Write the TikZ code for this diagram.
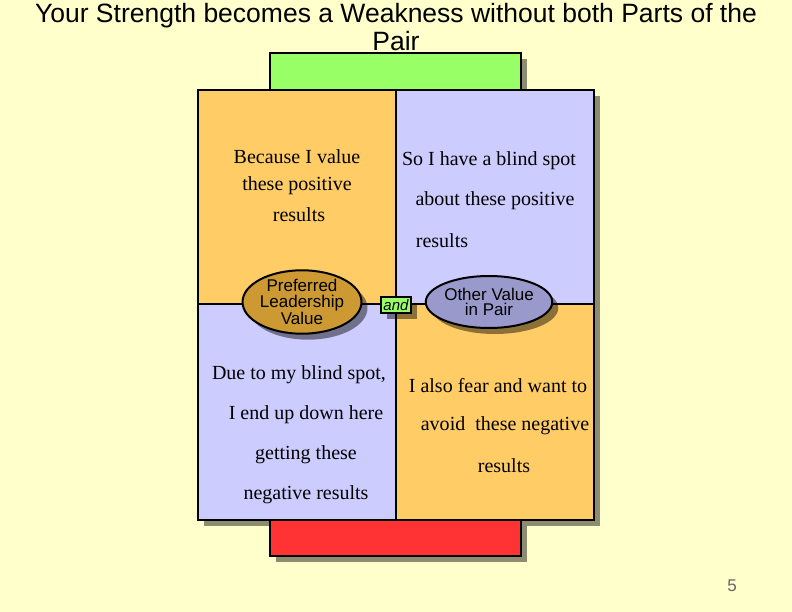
\documentclass[tikz,border=0pt]{standalone}
\usepackage{fontspec}
\setmainfont{Liberation Serif}
\newfontfamily\arialfont{Liberation Sans}
\usetikzlibrary{shapes.geometric,shadows}
\definecolor{pagebg}{HTML}{FFFFCC}
\definecolor{leafgreen}{HTML}{99FF66}
\definecolor{alarmred}{HTML}{FF3333}
\definecolor{warmorange}{HTML}{FFCC66}
\definecolor{softlilac}{HTML}{CCCCFF}
\definecolor{goldvalue}{HTML}{CC9933}
\definecolor{lilacvalue}{HTML}{9999CC}
\tikzset{
  boxshadow/.style={drop shadow={shadow xshift=6pt,shadow yshift=-6pt,fill=black,opacity=.45}},
  framed/.style={draw=black,line width=2pt},
  quadtext/.style={font=\fontsize{20}{22}\selectfont,inner sep=0pt},
  valueoval/.style={ellipse,framed,boxshadow,minimum width=114pt,minimum height=52pt,inner sep=0pt,
    align=center,font=\arialfont\fontsize{17}{15.5}\selectfont},
}
\begin{document}
\begin{tikzpicture}[x=1pt,y=-1pt]
\useasboundingbox (0,0) rectangle (792,612);
\fill[pagebg] (0,0) rectangle (792,612);
% title
\node[font=\arialfont\fontsize{26.5}{28}\selectfont,align=center] (title) at (396,27)
  {Your Strength becomes a Weakness without both Parts of the\\Pair};
% green bar, block of four, red bar
\filldraw[framed,boxshadow,fill=leafgreen] (270,53) rectangle (521,90);
\path[boxshadow] (198,90) rectangle (594,520);
\fill[warmorange] (198,90) rectangle (396,304);
\fill[softlilac] (396,90) rectangle (594,304);
\fill[softlilac] (198,304) rectangle (396,520);
\fill[warmorange] (396,304) rectangle (594,520);
\draw[framed] (198,90) rectangle (594,520);
\draw[framed] (396,90) -- (396,520);
\draw[framed] (198,304) -- (594,304);
\filldraw[framed,boxshadow,fill=alarmred] (270,520) rectangle (521,556);
% upper left
\node[quadtext] (ulA) at (297,157) {Because I value};
\node[quadtext] (ulB) at (297,186) {these positive};
\node[quadtext] (ulC) at (299,215) {results};
% upper right
\node[quadtext] (urA) at (489,161) {So I have a blind spot};
\node[quadtext] (urB) at (495,201) {about these positive};
\node[quadtext] (urC) at (442,241) {results};
% lower left
\node[quadtext] (llA) at (299,375) {Due to my blind spot,};
\node[quadtext] (llB) at (306,415) {I end up down here};
\node[quadtext] (llC) at (306,455) {getting these};
\node[quadtext] (llD) at (306,495) {negative results};
% lower right
\node[quadtext] (lrA) at (498,386) {I also fear and want to};
\node[quadtext] (lrB) at (505,426) {avoid\ \ these negative};
\node[quadtext] (lrC) at (504,466) {results};
% the pair
\node[valueoval,fill=goldvalue] (prefval) at (302,302) {Preferred\\Leadership\\Value};
\node[valueoval,fill=lilacvalue] (otherval) at (489,302) {Other Value\\in Pair};
\node[draw=black,line width=1.5pt,fill=leafgreen,boxshadow,minimum width=30pt,minimum height=16pt,
  inner sep=0pt,font=\arialfont\itshape\fontsize{15}{15}\selectfont] (andbox) at (396,305) {and};
% page number
\node[font=\arialfont\fontsize{17}{17}\selectfont,text=black!60] (pagenum) at (732,586) {5};
\end{tikzpicture}
\end{document}
